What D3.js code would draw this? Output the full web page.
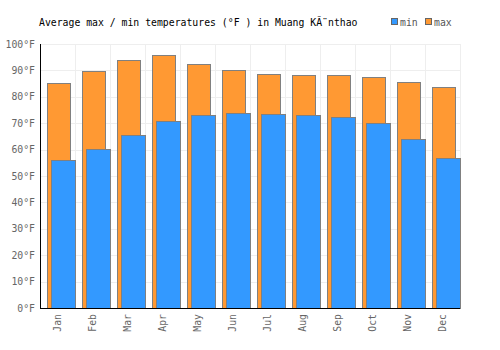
<!DOCTYPE html>
<html>
<head>
<meta charset="utf-8">
<script src="https://cdn.jsdelivr.net/npm/d3@7/dist/d3.min.js"></script>
<style>
  body { margin: 0; background: #fff; }
  svg { display: block; }
  text { font-family: "DejaVu Sans Mono", monospace; }
</style>
</head>
<body>
<script>
"use strict";

const months = ["Jan", "Feb", "Mar", "Apr", "May", "Jun", "Jul", "Aug", "Sep", "Oct", "Nov", "Dec"];
const maxTemps = [85.3, 89.8, 94.0, 95.9, 92.4, 90.2, 88.6, 88.2, 88.2, 87.5, 85.6, 83.8];
const minTemps = [56.2, 60.3, 65.6, 70.9, 73.2, 74.0, 73.5, 73.2, 72.4, 70.2, 64.1, 57.0];
const yTicks = [0, 10, 20, 30, 40, 50, 60, 70, 80, 90, 100];
const title = "Average max / min temperatures (°F ) in Muang KÃ¨nthao";

const width = 500, height = 350;
const margin = { top: 44, right: 40, bottom: 42, left: 40 };
const w = width - margin.left - margin.right;
const h = height - margin.top - margin.bottom;
const colors = { min: "#3399ff", max: "#ff9933", stroke: "#808080" };
const fontSize = "9.8px";

const svg = d3.select("body").append("svg")
  .attr("width", width)
  .attr("height", height);

const graph = svg.append("g")
  .attr("transform", `translate(${margin.left},${margin.top})`);

const x = d3.scaleBand().domain(months).range([0, w]);
const y = d3.scaleLinear().domain([0, 100]).range([h, 0]);

// grid
graph.append("g")
  .selectAll("line")
  .data(yTicks)
  .join("line")
  .attr("x1", 0).attr("x2", w)
  .attr("y1", (d) => Math.round(y(d)) + 0.5)
  .attr("y2", (d) => Math.round(y(d)) + 0.5)
  .attr("stroke", "#eeeeee");

graph.append("g")
  .selectAll("line")
  .data(months)
  .join("line")
  .attr("x1", (d) => Math.round(x(d) + x.bandwidth()) + 0.5)
  .attr("x2", (d) => Math.round(x(d) + x.bandwidth()) + 0.5)
  .attr("y1", 0).attr("y2", h)
  .attr("stroke", "#eeeeee");

const bw = x.bandwidth();

// max bars
graph.append("g")
  .selectAll("rect")
  .data(maxTemps)
  .join("rect")
  .attr("x", (d, i) => Math.round(x(months[i]) + bw * 0.19) + 0.5)
  .attr("width", Math.round(bw * 0.67))
  .attr("y", (d) => Math.round(y(d)) + 0.5)
  .attr("height", (d) => h - Math.round(y(d)))
  .attr("fill", colors.max)
  .attr("stroke", colors.stroke);

// min bars
graph.append("g")
  .selectAll("rect")
  .data(minTemps)
  .join("rect")
  .attr("x", (d, i) => Math.round(x(months[i]) + bw * 0.32) + 0.5)
  .attr("width", Math.round(bw * 0.69))
  .attr("y", (d) => Math.round(y(d)) + 0.5)
  .attr("height", (d) => h - Math.round(y(d)))
  .attr("fill", colors.min)
  .attr("stroke", colors.stroke);

// axes
const yAxis = d3.axisLeft(y).tickValues(yTicks).tickSize(0).tickPadding(5)
  .tickFormat((d) => `${d}°F`);
const yg = graph.append("g").call(yAxis);
yg.select(".domain").remove();
yg.selectAll("text").attr("fill", "#666").style("font-size", fontSize);

graph.append("line")
  .attr("x1", 0.5).attr("x2", 0.5).attr("y1", 0).attr("y2", h + 0.5)
  .attr("stroke", "#000");
graph.append("line")
  .attr("x1", 0).attr("x2", w).attr("y1", h + 0.5).attr("y2", h + 0.5)
  .attr("stroke", "#000");

const xAxis = d3.axisBottom(x).tickSize(0).tickPadding(0);
const xg = graph.append("g").attr("transform", `translate(0,${h})`).call(xAxis);
xg.select(".domain").remove();
xg.selectAll("text")
  .attr("fill", "#666")
  .style("font-size", fontSize)
  .attr("text-anchor", "end")
  .attr("dy", "0.35em")
  .attr("transform", "translate(0,6) rotate(-90)");

// title
svg.append("text")
  .attr("x", 39).attr("y", 26)
  .style("font-size", fontSize)
  .attr("fill", "#000")
  .text(title);

// legend
const legend = [["min", colors.min, 391], ["max", colors.max, 425]];
const lg = svg.append("g").selectAll("g").data(legend).join("g");
lg.append("rect")
  .attr("x", (d) => d[2] + 0.5).attr("y", 18.5)
  .attr("width", 6).attr("height", 6)
  .attr("fill", (d) => d[1])
  .attr("stroke", "#666");
lg.append("text")
  .attr("x", (d) => d[2] + 9).attr("y", 26)
  .style("font-size", fontSize)
  .attr("fill", "#555")
  .text((d) => d[0]);
</script>
</body>
</html>
